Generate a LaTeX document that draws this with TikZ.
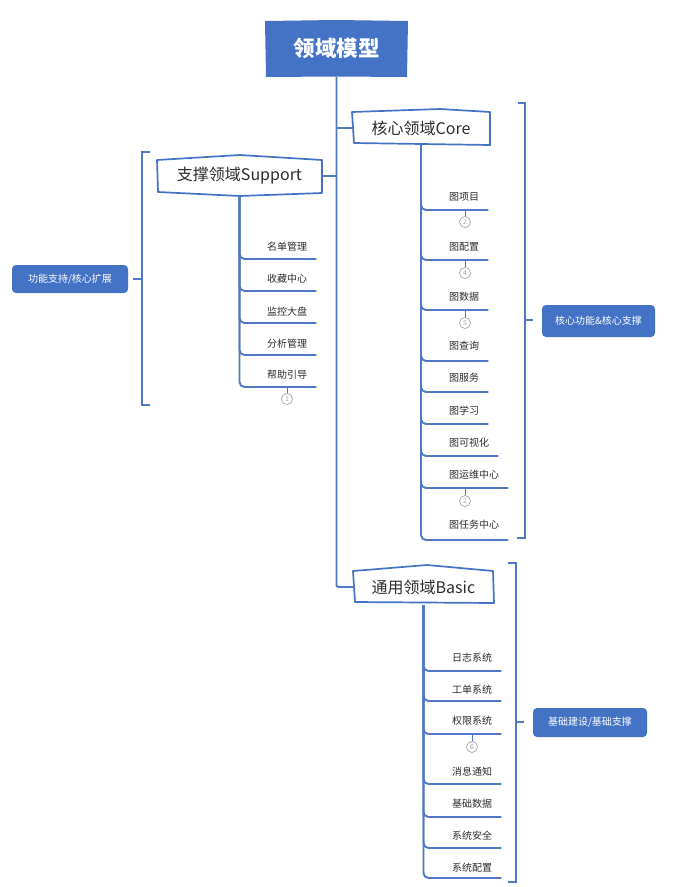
\documentclass[tikz,border=0pt]{standalone}
\usepackage{fontspec}
\setmainfont{Noto Sans CJK SC}
\usetikzlibrary{calc}
\definecolor{mblue}{RGB}{68,114,196}
\definecolor{lblue}{RGB}{80,120,198}
\definecolor{txt}{RGB}{45,45,45}
\definecolor{cgray}{RGB}{165,165,165}
\begin{document}
\begin{tikzpicture}[x=1pt,y=1pt,
 tree/.style={draw=lblue, line width=1.9pt, rounded corners=5pt},
 brk/.style={draw=lblue, line width=1.5pt},
 tick/.style={draw=lblue, line width=0.9pt},
 item/.style={anchor=west, inner sep=0pt, font=\fontsize{10}{12}\selectfont, text=txt},
 numc/.style={circle, draw=cgray, line width=0.7pt, minimum size=11pt, inner sep=0pt, font=\fontsize{7}{8}\selectfont, text=cgray},
 lab/.style={rounded corners=4pt, fill=mblue, text=white, font=\fontsize{10}{12}\selectfont, inner sep=0pt},
 box/.style={draw=mblue, line width=1.7pt, fill=white, line join=round},
 head/.style={inner sep=0pt, font=\fontsize{16}{18}\selectfont, text=txt}
]
\useasboundingbox[fill=white] (0,0) rectangle (676,-887);

% root
\fill[mblue] (265,-21) -- (336,-20) -- (408,-21) -- (407,-77) -- (336,-76.5) -- (266,-77) -- cycle;
\node[inner sep=0pt, minimum width=143pt, minimum height=57pt, text=white, font=\fontsize{21.5}{24}\selectfont\bfseries] (root) at (336.5,-48.5) {领域模型};

% headings
\draw[box] (352,-112) -- (440,-109) -- (490,-112) -- (490,-145) -- (354,-143) -- cycle;
\node[head, minimum width=138pt, minimum height=34pt] (core) at (421,-128) {核心领域Core};
\draw[box] (157,-160) -- (240,-155) -- (322,-160) -- (322,-193) -- (240,-196) -- (158,-192) -- cycle;
\node[head, minimum width=165pt, minimum height=40pt] (sup) at (239.5,-176) {支撑领域Support};
\draw[box] (353,-571) -- (427,-565) -- (493,-571) -- (494,-603) -- (355,-602) -- cycle;
\node[head, minimum width=141pt, minimum height=36pt] (basic) at (423.5,-587) {通用领域Basic};

% trunk
\draw[tree, rounded corners=2pt] (root.south) |- (basic.west);
\draw[tree] (root.south |- core.west) -- (core.west);
\draw[tree] (sup.east) -- (sup.east -| root.south);

% support items
\node[item] (s1) at (267,-247) {名单管理};
\node[item] (s2) at (267,-279) {收藏中心};
\node[item] (s3) at (267,-312) {监控大盘};
\node[item] (s4) at (267,-344) {分析管理};
\node[item] (s5) at (267,-375) {帮助引导};
\coordinate (s1u) at ($(s1.east)+(9,-12)$);
\coordinate (s2u) at ($(s2.east)+(9,-12)$);
\coordinate (s3u) at ($(s3.east)+(9,-11)$);
\coordinate (s4u) at ($(s4.east)+(9,-11)$);
\coordinate (s5u) at ($(s5.east)+(9,-12)$);
\foreach \u in {s1u,s2u,s3u,s4u,s5u} \draw[tree] (sup.south) |- (\u);
\node[numc] (k1) at (287,-399) {1};
\draw[tick] (k1.north) -- (k1.north |- s5u);

% core items
\node[item] (c1) at (449,-197) {图项目};
\node[item] (c2) at (449,-247) {图配置};
\node[item] (c3) at (449,-297) {图数据};
\node[item] (c4) at (449,-346) {图查询};
\node[item] (c5) at (449,-378) {图服务};
\node[item] (c6) at (449,-411) {图学习};
\node[item] (c7) at (449,-443) {图可视化};
\node[item] (c8) at (449,-475) {图运维中心};
\node[item] (c9) at (449,-525) {图任务中心};
\coordinate (c1u) at ($(c1.east)+(9,-13)$);
\coordinate (c2u) at ($(c2.east)+(9,-13)$);
\coordinate (c3u) at ($(c3.east)+(9,-13)$);
\coordinate (c4u) at ($(c4.east)+(9,-15)$);
\coordinate (c5u) at ($(c5.east)+(9,-14)$);
\coordinate (c6u) at ($(c6.east)+(9,-13)$);
\coordinate (c7u) at ($(c7.east)+(9,-13)$);
\coordinate (c8u) at ($(c8.east)+(9,-13)$);
\coordinate (c9u) at ($(c9.east)+(9,-15)$);
\foreach \u in {c1u,c2u,c3u,c4u,c5u,c6u,c7u,c8u,c9u} \draw[tree] (core.south) |- (\u);
\node[numc] (k2) at (465,-222) {2};
\node[numc] (k3) at (465,-273) {4};
\node[numc] (k4) at (465,-323) {5};
\node[numc] (k5) at (465,-501) {2};
\draw[tick] (k2.north) -- (k2.north |- c1u);
\draw[tick] (k3.north) -- (k3.north |- c2u);
\draw[tick] (k4.north) -- (k4.north |- c3u);
\draw[tick] (k5.north) -- (k5.north |- c8u);

% basic items
\node[item] (b1) at (452,-658) {日志系统};
\node[item] (b2) at (452,-690) {工单系统};
\node[item] (b3) at (452,-721) {权限系统};
\node[item] (b4) at (452,-772) {消息通知};
\node[item] (b5) at (452,-804) {基础数据};
\node[item] (b6) at (452,-836) {系统安全};
\node[item] (b7) at (452,-868) {系统配置};
\coordinate (b1u) at ($(b1.east)+(9,-13)$);
\coordinate (b2u) at ($(b2.east)+(9,-11)$);
\coordinate (b3u) at ($(b3.east)+(9,-13)$);
\coordinate (b4u) at ($(b4.east)+(9,-12)$);
\coordinate (b5u) at ($(b5.east)+(9,-13)$);
\coordinate (b6u) at ($(b6.east)+(9,-12)$);
\coordinate (b7u) at ($(b7.east)+(9,-10)$);
\foreach \u in {b1u,b2u,b3u,b4u,b5u,b6u,b7u} \draw[tree] (basic.south) |- (\u);
\node[numc] (k6) at (472,-747) {6};
\draw[tick] (k6.north) -- (k6.north |- b3u);

% side labels
\node[lab, minimum width=116pt, minimum height=28pt] (lab1) at (70,-279) {功能支持/核心扩展};
\node[lab, minimum width=113pt, minimum height=32pt] (lab2) at (598.5,-321) {核心功能\&核心支撑};
\node[lab, minimum width=114pt, minimum height=29pt] (lab3) at (590,-722.5) {基础建设/基础支撑};

% brackets
\draw[brk] (150,-152) -- (142,-152) -- (142,-405) -- (150,-405);
\coordinate (sbm) at (142,-279);
\draw[brk] (sbm) -- ($(lab1.east)+(5,0)$);
\draw[brk] (518,-103) -- (525,-103) -- (525,-538) -- (517,-538);
\coordinate (cbm) at (525,-320);
\draw[brk] (cbm) -- ($(lab2.west |- cbm)+(-9,0)$);
\draw[brk] (508,-563) -- (516,-563) -- (516,-882) -- (508,-882);
\coordinate (bbm) at (516,-722);
\draw[brk] (bbm) -- ($(lab3.west |- bbm)+(-9,0)$);
\end{tikzpicture}
\end{document}
